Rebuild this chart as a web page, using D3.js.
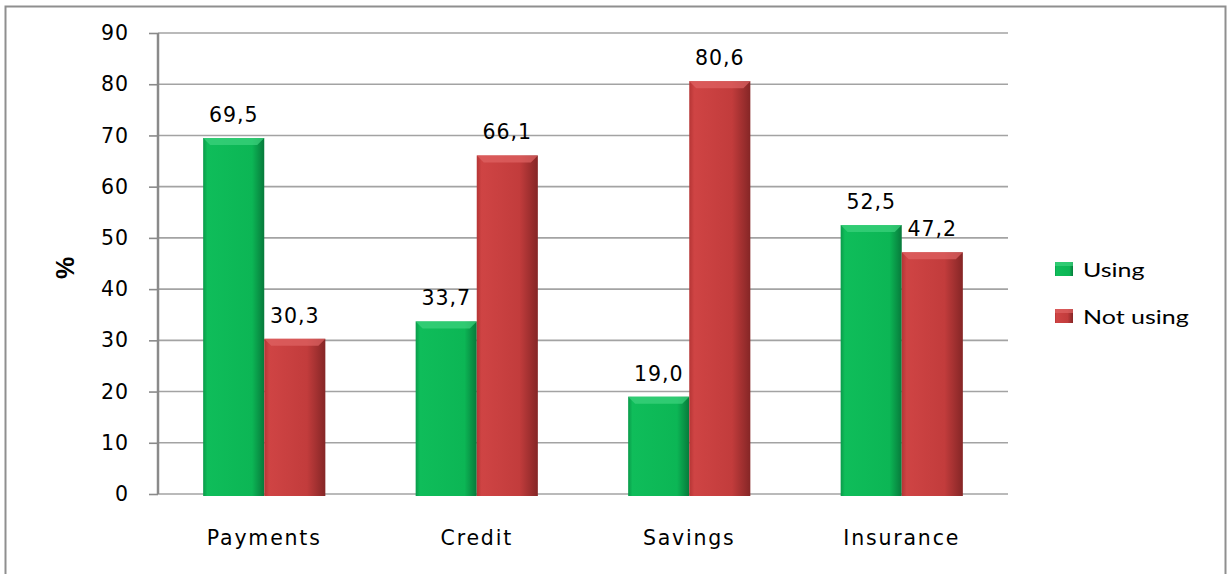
<!DOCTYPE html>
<html><head><meta charset="utf-8">
<script src="https://cdn.jsdelivr.net/npm/d3@7"></script>
<style>body{margin:0;background:#fff}svg{display:block}</style>
</head><body>
<svg id="c" width="1230" height="574"></svg>
<script>
const categories = ["Payments", "Credit", "Savings", "Insurance"];
const seriesNames = ["Using", "Not using"];
const usingValues = [69.5, 33.7, 19.0, 52.5];
const notUsingValues = [30.3, 66.1, 80.6, 47.2];
const yTicks = [0, 10, 20, 30, 40, 50, 60, 70, 80, 90];
const yLabel = "%";

const svg = d3.select("#c");
const defs = svg.append("defs");
function hgrad(id, stops){
  const g = defs.append("linearGradient").attr("id", id).attr("x1","0").attr("x2","1").attr("y1","0").attr("y2","0");
  stops.forEach(s => g.append("stop").attr("offset", s[0]).attr("stop-color", s[1]));
}
hgrad("gG", [["0%","#0a9a4a"],["7%","#0fbd5a"],["80%","#0cb655"],["100%","#077a3b"]]);
hgrad("gR", [["0%","#b53535"],["8%","#cf4444"],["70%","#c23c3c"],["100%","#852626"]]);
const colors = {"Using": {fill:"url(#gG)", top:"#3fd37f"}, "Not using": {fill:"url(#gR)", top:"#e06464"}};

// border
svg.append("rect").attr("x",5.5).attr("y",6.5).attr("width",1220).attr("height",620)
  .attr("fill","none").attr("stroke","#8f8f8f").attr("stroke-width",2);

const x0 = d3.scaleBand().domain(categories).range([158,1008]).paddingInner(0.425).paddingOuter(0.2125);
const x1 = d3.scaleBand().domain(seriesNames).range([0, x0.bandwidth()]).padding(0);
const y = d3.scaleLinear().domain([0,90]).range([494,33]);

const txtFont = "'DejaVu Sans', Verdana, sans-serif";

// gridlines
svg.append("g").selectAll("line").data(yTicks).join("line")
  .attr("x1",158).attr("x2",1008).attr("y1",d=>y(d)).attr("y2",d=>y(d))
  .attr("stroke","#a3a3a3").attr("stroke-width",1.6);

// y axis
const yAxis = d3.axisLeft(y).tickValues(yTicks).tickSize(9).tickPadding(20).tickFormat(d3.format("d"));
const ya = svg.append("g").attr("transform","translate(158,0)").call(yAxis);
ya.select(".domain").attr("stroke","#8a8a8a").attr("stroke-width",2.5).attr("d","M0,33V494");
ya.selectAll(".tick line").attr("stroke","#8a8a8a").attr("stroke-width",1.6);
ya.selectAll(".tick text").attr("font-family",txtFont).attr("font-size",20.5).attr("fill","#000")
  .attr("letter-spacing","1px");

// y label
svg.append("text").attr("transform","translate(74,268) rotate(-90)").attr("text-anchor","middle")
  .attr("font-family","'Liberation Sans', Arial, sans-serif").attr("font-weight","bold").attr("font-size",25)
  .text(yLabel);

// bars
const data = categories.map((c,i)=>({cat:c, vals:[{s:"Using", v:usingValues[i]},{s:"Not using", v:notUsingValues[i]}]}));
const fmt = v => d3.format(".1f")(v).replace(".", ",");
const groups = svg.append("g").selectAll("g").data(data).join("g")
  .attr("transform", d=>`translate(${x0(d.cat)},0)`);
const bars = groups.selectAll("g").data(d=>d.vals).join("g");
bars.append("rect").attr("x",d=>x1(d.s)).attr("width",x1.bandwidth())
  .attr("y",d=>y(d.v)).attr("height",d=>y(0)-y(d.v)+2).attr("fill",d=>colors[d.s].fill);
bars.append("path").attr("d",d=>{
  const xa = x1(d.s), w = x1.bandwidth(), t = y(d.v);
  return `M${xa},${t}L${xa+w},${t}L${xa+w-7},${t+7}L${xa+7},${t+7}Z`;
}).attr("fill",d=>colors[d.s].top).attr("opacity",0.7);
bars.append("text").attr("x",d=>x1(d.s)+x1.bandwidth()/2).attr("y",d=>y(d.v)-16)
  .attr("text-anchor","middle").attr("font-family",txtFont).attr("font-size",20.5).attr("letter-spacing","1px")
  .text(d=>fmt(d.v));

// x labels
svg.append("g").selectAll("text").data(categories).join("text")
  .attr("x",d=>x0(d)+x0.bandwidth()/2).attr("y",545).attr("text-anchor","middle")
  .attr("font-family",txtFont).attr("font-size",20.5).attr("letter-spacing","1.8px").text(d=>d);

// legend
const leg = svg.append("g").selectAll("g").data(seriesNames).join("g")
  .attr("transform",(d,i)=>`translate(1055,${262+i*47})`);
leg.append("rect").attr("width",18).attr("height",14).attr("fill",d=>colors[d].fill);
leg.append("rect").attr("width",18).attr("height",4).attr("fill",d=>colors[d].top).attr("opacity",0.7);
leg.append("text").attr("transform","translate(28,15) scale(1.25,1)").attr("font-family","Lato, 'Open Sans', sans-serif")
  .attr("font-size",20).text(d=>d);
</script>
</body></html>
